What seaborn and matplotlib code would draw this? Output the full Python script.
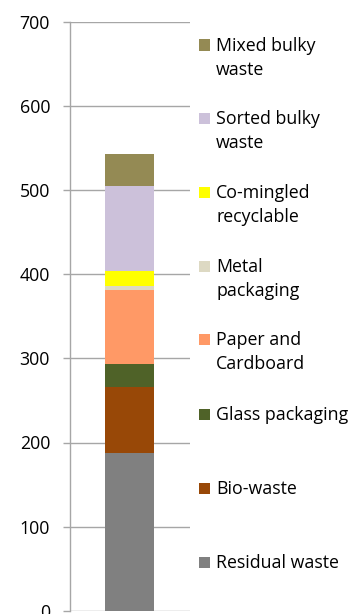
import matplotlib
matplotlib.use("Agg")
import matplotlib.pyplot as plt
import seaborn as sns
import numpy as np
from matplotlib.patches import Rectangle

categories = ["Residual waste", "Bio-waste", "Glass packaging", "Paper and\nCardboard",
              "Metal\npackaging", "Co-mingled\nrecyclable", "Sorted bulky\nwaste", "Mixed bulky\nwaste"]
values = [187.5, 78, 28, 88, 4, 19, 101, 37]
colors = ["#808080", "#984807", "#4F6228", "#FF9966", "#DDD9C3", "#FFFF00", "#CCC1DA", "#948A54"]
yticks = [0, 100, 200, 300, 400, 500, 600, 700]

sns.set_style("white")
plt.rcParams['font.family'] = ['Open Sans', 'DejaVu Sans']

fig = plt.figure(figsize=(3.55, 6.14), dpi=100)
ax = fig.add_axes([69.5 / 355, 3.3 / 614, (190 - 69.5) / 355, (610.7 - 22) / 614])

cum = np.cumsum(values)
for i in reversed(range(len(values))):
    sns.barplot(x=[""], y=[cum[i]], color=colors[i], saturation=1, width=0.405, ax=ax,
                zorder=3, edgecolor="none", linewidth=0)

ax.set_xlim(-0.5, 0.5)
ax.set_ylim(0, 700)
ax.set_yticks(yticks)
ax.set_yticklabels([str(t) for t in yticks], fontsize=12.8, color="#000000")
ax.set_xticks([])
ax.set_xlabel("")
ax.set_ylabel("")
ax.grid(axis="y", color="#A6A6A6", linewidth=1.0, zorder=0)
ax.set_axisbelow(True)
for s in ["top", "right", "bottom"]:
    ax.spines[s].set_visible(False)
ax.spines["left"].set_color("#A6A6A6")
ax.spines["left"].set_linewidth(1.0)
ax.tick_params(axis="y", length=5, width=1.0, color="#A6A6A6", pad=9, left=True)

# legend, drawn manually (reverse order, top to bottom)
ys = [562, 488, 414, 339, 266, 192, 118, 45]  # first-line centre, pixels from top
for i in range(len(categories)):
    yc = ys[i]
    fig.add_artist(Rectangle((199 / 355, (614 - yc - 5.5) / 614), 11 / 355, 11 / 614,
                             transform=fig.transFigure, facecolor=colors[i], edgecolor="none"))
    fig.text(216 / 355, (614 - yc + 8) / 614, categories[i], fontsize=12.8, va="top", ha="left",
             linespacing=1.4, color="#000000")

fig.savefig("out.png", dpi=100)
